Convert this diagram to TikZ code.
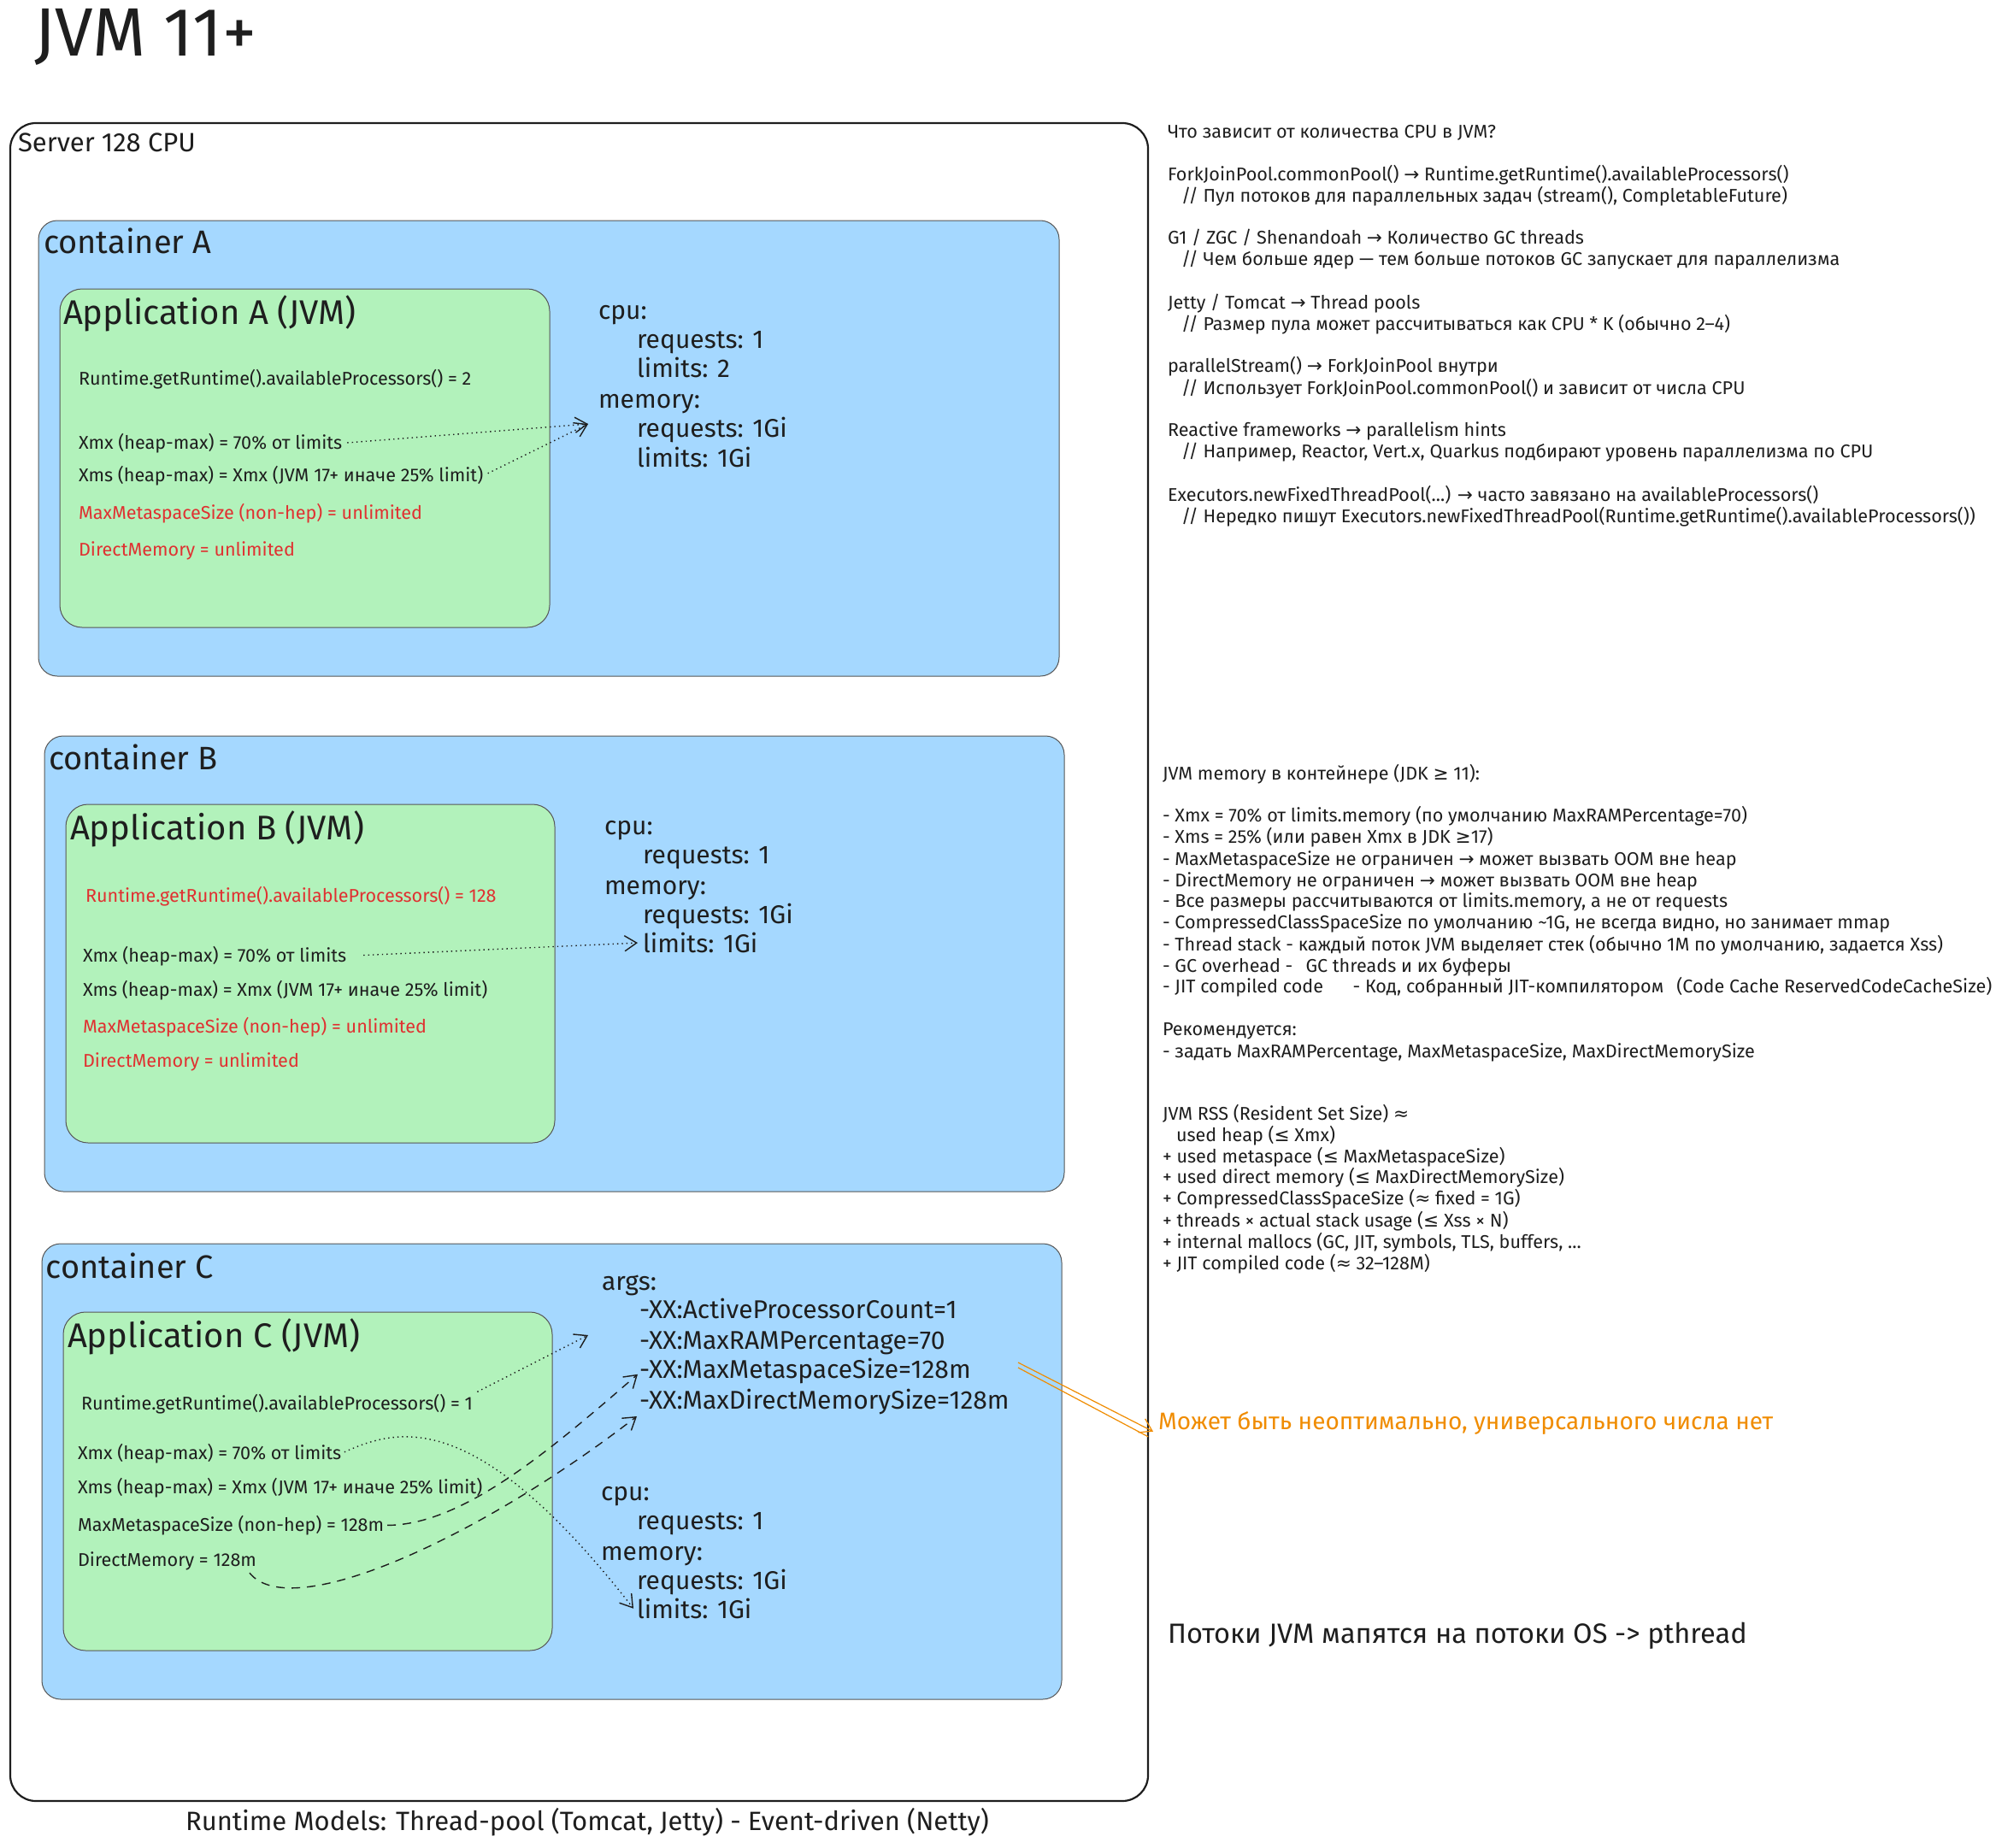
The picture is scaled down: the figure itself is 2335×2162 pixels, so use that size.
\documentclass[tikz,border=0pt]{standalone}
\usepackage{fontspec}
\setmainfont{Fira Sans}
\newfontfamily\symf{DejaVu Sans}
\usetikzlibrary{arrows.meta}
\definecolor{ink}{HTML}{1E1E1E}
\definecolor{cblue}{HTML}{A5D8FF}
\definecolor{cgreen}{HTML}{B2F2BB}
\definecolor{cred}{HTML}{E03131}
\definecolor{corange}{HTML}{F08C00}
\newcommand\myto{{\symf →}}
\newcommand\myge{{\symf ≥}}
\newcommand\myle{{\symf ≤}}
\newcommand\myapx{{\symf ≈}}
\begin{document}
\begin{tikzpicture}[x=0.5pt,y=-0.5pt,
  every node/.style={inner sep=0pt, outer sep=0pt, text=ink},
  server/.style={draw=ink, line width=1.1pt, rounded corners=15pt},
  cont/.style={draw=ink!75, fill=cblue, line width=0.5pt, rounded corners=11pt},
  appbox/.style={draw=ink!75, fill=cgreen, line width=0.5pt, rounded corners=13pt},
  small/.style={font=\fontsize{10.8}{13}\selectfont, anchor=mid west},
  midt/.style={font=\fontsize{15}{18}\selectfont, anchor=mid west},
  contlabel/.style={font=\fontsize{19}{23}\selectfont, anchor=mid west},
  applabel/.style={font=\fontsize{20}{24}\selectfont, anchor=mid west},
  warn/.style={text=cred},
  tipstyle/.style={-{Straight Barb[length=7pt,width=9pt]}},
  dotarrow/.style={draw=ink, line width=0.7pt, dotted, tipstyle},
  dasharrow/.style={draw=ink, line width=0.7pt, dash pattern=on 5pt off 4pt, tipstyle}]

\useasboundingbox (0,0) rectangle (2335,2162);
\fill[white] (0,0) rectangle (2335,2162);

% title
\node[font=\fontsize{40}{44}\selectfont, anchor=mid west] (title) at (40,60) {JVM 11+};

% server
\draw[server] (12,144) rectangle (1343,2107);
\node[font=\fontsize{15.5}{18}\selectfont, anchor=mid west] (serverlbl) at (21,172) {Server 128 CPU};

% containers
\draw[cont] (45,258) rectangle (1239,791);
\draw[cont] (52,861) rectangle (1245,1394);
\draw[cont] (49,1455) rectangle (1242,1988);
\node[contlabel] (contA) at (51,291) {container A};
\node[contlabel] (contB) at (57,895) {container B};
\node[contlabel] (contC) at (54,1490) {container C};

% apps
\draw[appbox] (70,338) rectangle (643,734);
\draw[appbox] (77,941) rectangle (649,1337);
\draw[appbox] (74,1535) rectangle (646,1931);
\node[applabel] (appA) at (74,374) {Application A (JVM)};
\node[applabel] (appB) at (82,977) {Application B (JVM)};
\node[applabel] (appC) at (79,1571) {Application C (JVM)};

% App A text
\node[small] (rtA) at (92,445) {Runtime.getRuntime().availableProcessors() = 2};
\node[small] (xmxA) at (92,520) {Xmx (heap-max) = 70\% от limits};
\node[small] (xmsA) at (92,558) {Xms (heap-max) = Xmx (JVM 17+ иначе 25\% limit)};
\node[small, warn] (metaA) at (92,602) {MaxMetaspaceSize (non-hep) = unlimited};
\node[small, warn] (dirA) at (92,645) {DirectMemory = unlimited};

% A resources
\node[midt] (cpuA) at (700,368) {cpu:};
\node[midt] (reqA) at (745,402) {requests: 1};
\node[midt] (limcA) at (745,436) {limits: 2};
\node[midt] (memA) at (700,472) {memory:};
\node[midt] (mreqA) at (745,506) {requests: 1Gi};
\node[midt] (mlimA) at (745,541) {limits: 1Gi};
\coordinate (tipA) at (688,496);
\draw[dotarrow, shorten <=3pt] (xmxA.east) -- (tipA);
\draw[dotarrow, shorten <=3pt] (xmsA.east) -- (tipA);

% App B text
\node[small, warn] (rtB) at (100,1050) {Runtime.getRuntime().availableProcessors() = 128};
\node[small] (xmxB) at (97,1120) {Xmx (heap-max) = 70\% от limits};
\node[small] (xmsB) at (97,1160) {Xms (heap-max) = Xmx (JVM 17+ иначе 25\% limit)};
\node[small, warn] (metaB) at (97,1203) {MaxMetaspaceSize (non-hep) = unlimited};
\node[small, warn] (dirB) at (97,1243) {DirectMemory = unlimited};

% B resources
\node[midt] (cpuB) at (707,971) {cpu:};
\node[midt] (reqB) at (752,1005) {requests: 1};
\node[midt] (memB) at (707,1041) {memory:};
\node[midt] (mreqB) at (752,1075) {requests: 1Gi};
\node[midt] (mlimB) at (752,1109) {limits: 1Gi};
\draw[dotarrow, shorten <=10pt, shorten >=3pt] (xmxB.east) -- (mlimB.west);

% App C text
\node[small] (rtC) at (95,1644) {Runtime.getRuntime().availableProcessors() = 1};
\node[small] (xmxC) at (91,1702) {Xmx (heap-max) = 70\% от limits};
\node[small] (xmsC) at (91,1742) {Xms (heap-max) = Xmx (JVM 17+ иначе 25\% limit)};
\node[small] (metaC) at (91,1786) {MaxMetaspaceSize (non-hep) = 128m};
\node[small] (dirC) at (91,1827) {DirectMemory = 128m};

% C args + resources
\node[midt] (argsC) at (704,1504) {args:};
\node[midt] (a1C) at (748,1537) {-XX:ActiveProcessorCount=1};
\node[midt] (a2C) at (748,1573) {-XX:MaxRAMPercentage=70};
\node[midt] (a3C) at (748,1607) {-XX:MaxMetaspaceSize=128m};
\node[midt] (a4C) at (748,1643) {-XX:MaxDirectMemorySize=128m};
\node[midt] (cpuC) at (703,1750) {cpu:};
\node[midt] (reqC) at (745,1784) {requests: 1};
\node[midt] (memC) at (703,1820) {memory:};
\node[midt] (mreqC) at (745,1854) {requests: 1Gi};
\node[midt] (mlimC) at (745,1888) {limits: 1Gi};

\coordinate (tipC1) at (688,1562);
\coordinate (tipC4) at (745,1657);
\draw[dotarrow, shorten <=3pt] (rtC.north east) -- (tipC1);
\draw[dotarrow, shorten <=2pt] (xmxC.east) .. controls (470,1668) and (560,1650) .. ([xshift=-2pt]mlimC.west);
\draw[dasharrow, shorten <=2pt] (metaC.east) .. controls (540,1784) and (640,1700) .. ([xshift=-1pt,yshift=-2pt]a3C.west);
\draw[dasharrow] ([xshift=-4pt,yshift=-7pt]dirC.east) .. controls (340,1900) and (560,1800) .. (tipC4);

% orange note
\node[font=\fontsize{14}{17}\selectfont, anchor=mid west, text=corange] (note) at (1355,1667) {Может быть неоптимально, универсального числа нет};
\coordinate (oStart) at (1191,1594);
\draw[corange, line width=0.6pt, -{Straight Barb[length=7pt,width=9pt]}] (oStart) -- ([xshift=-3pt,yshift=-5pt]note.west);
\draw[corange, line width=0.6pt] ([yshift=-3pt]oStart) -- ([xshift=-6pt,yshift=-8pt]note.west);

% right column block 1
\node[small] (r1) at (1366,156) {Что зависит от количества CPU в JVM?};
\node[small] (r2) at (1366,206) {ForkJoinPool.commonPool() \myto{} Runtime.getRuntime().availableProcessors()};
\node[small] (r3) at (1382,231) {// Пул потоков для параллельных задач (stream(), CompletableFuture)};
\node[small] (r4) at (1366,280) {G1 / ZGC / Shenandoah \myto{} Количество GC threads};
\node[small] (r5) at (1382,305) {// Чем больше ядер — тем больше потоков GC запускает для параллелизма};
\node[small] (r6) at (1366,356) {Jetty / Tomcat \myto{} Thread pools};
\node[small] (r7) at (1382,381) {// Размер пула может рассчитываться как CPU * K (обычно 2–4)};
\node[small] (r8) at (1366,430) {parallelStream() \myto{} ForkJoinPool внутри};
\node[small] (r9) at (1382,456) {// Использует ForkJoinPool.commonPool() и зависит от числа CPU};
\node[small] (r10) at (1366,505) {Reactive frameworks \myto{} parallelism hints};
\node[small] (r11) at (1382,530) {// Например, Reactor, Vert.x, Quarkus подбирают уровень параллелизма по CPU};
\node[small] (r12) at (1366,581) {Executors.newFixedThreadPool(...) \myto{} часто завязано на availableProcessors()};
\node[small] (r13) at (1382,606) {// Нередко пишут Executors.newFixedThreadPool(Runtime.getRuntime().availableProcessors())};

% right column block 2
\node[small] (m1) at (1360,907) {JVM memory в контейнере (JDK \myge{} 11):};
\node[small] (m2) at (1360,956) {- Xmx = 70\% от limits.memory (по умолчанию MaxRAMPercentage=70)};
\node[small] (m3) at (1360,981) {- Xms = 25\% (или равен Xmx в JDK \myge{}17)};
\node[small] (m4) at (1360,1007) {- MaxMetaspaceSize не ограничен \myto{} может вызвать OOM вне heap};
\node[small] (m5) at (1360,1032) {- DirectMemory не ограничен \myto{} может вызвать OOM вне heap};
\node[small] (m6) at (1360,1056) {- Все размеры рассчитываются от limits.memory, а не от requests};
\node[small] (m7) at (1360,1081) {- CompressedClassSpaceSize по умолчанию \textasciitilde1G, не всегда видно, но занимает mmap};
\node[small] (m8) at (1360,1107) {- Thread stack - каждый поток JVM выделяет стек (обычно 1M по умолчанию, задается Xss)};
\node[small] (m9) at (1360,1132) {- GC overhead -\hspace{0.7em}GC threads и их буферы};
\node[small] (m10) at (1360,1156) {- JIT compiled code\hspace{1.6em}- Код, собранный JIT-компилятором\hspace{0.7em}(Code Cache ReservedCodeCacheSize)};
\node[small] (m11) at (1360,1206) {Рекомендуется:};
\node[small] (m12) at (1360,1232) {- задать MaxRAMPercentage, MaxMetaspaceSize, MaxDirectMemorySize};

% right column block 3
\node[small] (s1) at (1360,1305) {JVM RSS (Resident Set Size) \myapx};
\node[small] (s2) at (1376,1330) {used heap (\myle{} Xmx)};
\node[small] (s3) at (1360,1355) {+ used metaspace (\myle{} MaxMetaspaceSize)};
\node[small] (s4) at (1360,1379) {+ used direct memory (\myle{} MaxDirectMemorySize)};
\node[small] (s5) at (1360,1404) {+ CompressedClassSpaceSize (\myapx{} fixed = 1G)};
\node[small] (s6) at (1360,1430) {+ threads × actual stack usage (\myle{} Xss × N)};
\node[small] (s7) at (1360,1455) {+ internal mallocs (GC, JIT, symbols, TLS, buffers, ...};
\node[small] (s8) at (1360,1480) {+ JIT compiled code (\myapx{} 32–128M)};

% other notes
\node[font=\fontsize{16.3}{19}\selectfont, anchor=mid west] (pth) at (1366,1917) {Потоки JVM мапятся на потоки OS -> pthread};
\node[font=\fontsize{15.5}{18}\selectfont, anchor=mid west] (models) at (217,2136) {Runtime Models: Thread-pool (Tomcat, Jetty) - Event-driven (Netty)};

\end{tikzpicture}
\end{document}
